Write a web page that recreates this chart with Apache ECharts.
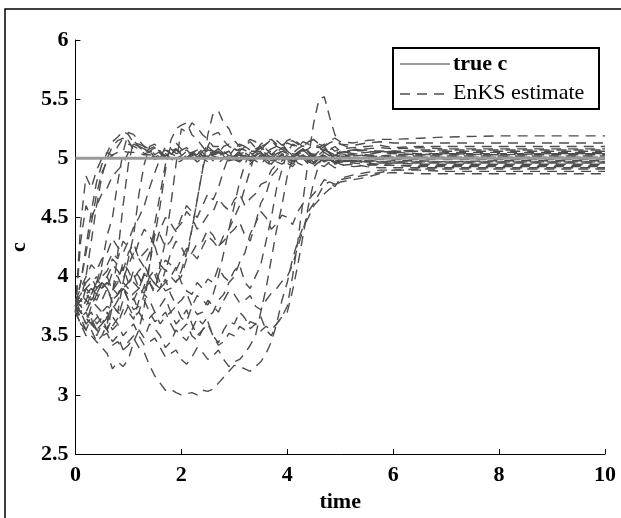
<!DOCTYPE html>
<html><head><meta charset="utf-8">
<script src="https://cdn.jsdelivr.net/npm/echarts@6/dist/echarts.min.js"></script>
<style>html,body{margin:0;padding:0;background:#fff}#c{width:621px;height:518px}</style>
</head><body><div id="c"></div>
<script>
// shared time grid
var T = [0,0.1,0.2,0.3,0.4,0.5,0.6,0.7,0.8,0.9,1.0,1.1,1.2,1.3,1.4,1.5,1.6,1.7,1.8,1.9,2.0,2.1,2.2,2.3,2.4,2.5,2.6,2.7,2.8,2.9,3.0,3.1,3.2,3.3,3.4,3.5,3.6,3.7,3.8,3.9,4.0,4.1,4.2,4.3,4.4,4.5,4.6,4.7,4.8,4.9,5.0,5.25,5.5,5.75,6,6.5,7,8,9,10];
var trueT = [0, 10];
var trueC = [5, 5];
var xTicks = [0,2,4,6,8,10];
var yTicks = [2.5,3,3.5,4,4.5,5,5.5,6];
// ensemble members (EnKS estimate)
var m1 = [3.75,3.95,4.25,4.55,4.8,4.95,5.05, 5.14,5.18, 5.23,5.2, 5.13,5.12, 5.1,5.06, 5.01,5.03, 5.07,5.04, 5.0,5.02, 5.06,5.05, 5.01,5.03, 5.07,5.06, 5.02,5.04, 5.06,5.02, 5.04,5.05, 5.01,5.03, 5.06,5.04, 5.0,5.02, 5.06,5.04, 5.01,5.03, 5.06,5.05, 5.02,5.03, 5.05,5.02, 5.06,5.04, 5.02,5.03,5.05,5.04,5.03,5.04,5.03,5.04,5.04];
var m2 = [3.7,4.45,4.85,4.75,4.9,5.0,5.05, 5.02,5.1, 5.17,5.15, 5.07,5.1, 5.08,5.05, 4.99,5.02, 5.04,5.0, 4.96,4.98, 5.03,5.01, 4.97,5.0, 5.02,4.98, 4.96,5.0, 5.02,4.99, 4.97,5.01, 5.0,4.98, 4.95,5.0, 5.01,4.97, 4.95,4.99, 5.02,5.0, 4.97,4.98, 5.01,5.0, 4.97,4.99, 5.01,4.98, 4.97,4.99,4.97,4.98,4.98,4.97,4.98,4.98,4.98];
var m3 = [3.75,3.95,4.2,4.45,4.7,4.88,4.98, 5.03,5.05, 5.06,5.05, 5.05,5.04, 5.03,5.03, 5.02,5.01, 5.01,5.0, 5.0,5.0, 5.01,5.01, 5.0,5.0, 5.0,5.0, 5.01,5.01, 5.0,5.0, 5.0,5.0, 5.01,5.0, 5.0,5.01, 5.0,5.0, 5.0,5.0, 5.0,5.0, 5.0,5.0, 5.01,5.01, 5.0,5.0, 5.0,5.0, 5.0,5.0,5.0,5.0,5.0,5.0,5.0,5.0,5.0];
var m4 = [3.8,3.7,3.6,3.75,3.95,4.1,4.35, 4.5,4.8, 5.05,5.22, 5.2,5.15, 5.1,5.08, 5.03,5.06, 5.08,5.04, 5.02,5.07, 5.09,5.05, 5.03,5.08, 5.1,5.06, 5.05,5.1, 5.12,5.08, 5.06,5.11, 5.14,5.09, 5.07,5.12, 5.15,5.1, 5.08,5.13, 5.11,5.1, 5.14,5.12, 5.1,5.09, 5.12,5.1, 5.06,5.08, 5.09,5.1,5.11,5.09,5.1,5.1,5.1,5.1,5.1];
var m5 = [3.7,3.6,3.55,3.65,3.5,3.6,3.55, 3.75,3.7, 3.95,4.15, 4.35,4.7, 4.95,5.1, 5.12,5.05, 5.0,5.03, 5.07,5.05, 5.0,5.02, 5.04,5.0, 4.97,5.03, 5.05,5.01, 4.98,4.99, 5.03,5.02, 4.98,5.0, 5.02,4.98, 4.95,5.01, 5.03,4.99, 4.96,5.0, 5.01,4.97, 4.95,5.0, 5.02,4.98, 4.95,4.97, 4.98,4.96,4.95,4.96,4.95,4.95,4.95,4.95,4.95];
var m6 = [3.75,3.65,3.55,3.5,3.45,3.4,3.35, 3.22,3.28, 3.24,3.3, 3.45,3.55, 3.75,4.1, 4.45,4.7, 4.95,5.1, 5.13,5.08, 5.04,5.05, 5.07,5.03, 5.01,5.06, 5.08,5.04, 5.01,5.02, 5.06,5.05, 5.01,5.03, 5.05,5.01, 4.99,5.04, 5.06,5.02, 5.0,5.05, 5.07,5.03, 5.0,5.01, 5.04,5.03, 5.0,5.02, 5.03,5.02,5.01,5.02,5.02,5.02,5.02,5.02,5.02];
var m7 = [3.8,3.75,3.9,3.85,3.95,3.9,4.0, 3.88,3.95, 4.12,4.05, 3.95,3.9, 4.03,3.95, 3.88,4.1, 4.3,4.6, 4.95,5.25, 5.22,5.3, 5.26,5.2, 5.16,5.1, 5.1,5.06, 5.02,5.04, 5.08,5.07, 5.03,5.05, 5.06,5.03, 5.01,5.06, 5.08,5.04, 5.02,5.05, 5.07,5.03, 5.01,5.06, 5.08,5.04, 5.02,5.05, 5.07,5.06,5.05,5.06,5.07,5.07,5.07,5.07,5.07];
var m8 = [3.75,3.7,3.8,3.75,3.85,3.8,3.9, 3.78,3.85, 3.92,3.8, 3.86,3.9, 4.02,3.95, 3.85,3.9, 4.06,4.0, 3.95,4.05, 4.2,4.4, 4.65,4.9, 5.2,5.38, 5.4,5.3, 5.25,5.15, 5.1,5.12, 5.16,5.14, 5.1,5.12, 5.16,5.15, 5.11,5.13, 5.15,5.12, 5.1,5.14, 5.16,5.12, 5.1,5.15, 5.17,5.14, 5.13,5.15,5.16,5.16,5.17,5.18,5.19,5.19,5.19];
var m9 = [3.75,3.7,3.6,3.65,3.55,3.5,3.52, 3.42,3.45, 3.38,3.42, 3.48,3.4, 3.36,3.25, 3.16,3.1, 3.04,3.05, 3.02,3.0, 3.01,3.02, 3.0,3.04, 3.03,3.05, 3.1,3.15, 3.2,3.25, 3.24,3.22, 3.2,3.24, 3.28,3.35, 3.45,3.6, 3.8,3.95, 4.15,4.3, 4.42,4.5, 4.6,4.65, 4.7,4.74, 4.77,4.8, 4.82,4.84,4.87,4.88,4.87,4.87,4.87,4.87,4.87];
var m10 = [3.75,3.7,3.65,3.6,3.68,3.6,3.55, 3.66,3.6, 3.5,3.55, 3.6,3.5, 3.42,3.45, 3.48,3.4, 3.32,3.35, 3.38,3.3, 3.26,3.32, 3.4,3.36, 3.3,3.33, 3.38,3.3, 3.24,3.28, 3.3,3.35, 3.42,3.5, 3.7,3.9, 4.15,4.4, 4.6,4.85, 5.0,5.05, 5.08,5.02, 4.96,4.98, 5.02,5.0, 4.95,4.97, 4.96,4.95,4.94,4.94,4.93,4.93,4.93,4.93,4.93];
var m11 = [3.75,3.8,3.85,3.9,3.85,3.95,3.9, 3.8,3.85, 3.9,3.8, 3.72,3.75, 3.8,3.7, 3.62,3.65, 3.7,3.6, 3.52,3.55, 3.6,3.5, 3.46,3.55, 3.6,3.5, 3.42,3.45, 3.52,3.5, 3.58,3.55, 3.62,3.6, 3.54,3.58, 3.55,3.6, 3.66,3.75, 4.0,4.3, 4.65,5.0, 5.3,5.5, 5.52,5.35, 5.2,5.12, 5.08,5.06,5.05,5.05,5.06,5.05,5.05,5.05,5.05];
var m12 = [3.75,3.8,3.75,3.85,3.8,3.9,3.95, 3.88,4.0, 4.08,3.95, 3.98,4.05, 4.1,4.0, 3.94,3.9, 3.98,3.85, 3.76,3.8, 3.86,3.75, 3.68,3.7, 3.8,3.75, 3.7,3.8, 3.88,3.85, 3.78,3.8, 3.84,3.75, 3.72,3.8, 3.86,3.9, 3.96,4.0, 4.1,4.25, 4.4,4.55, 4.62,4.7, 4.78,4.8, 4.78,4.82, 4.84,4.86,4.88,4.9,4.91,4.91,4.91,4.91,4.91];
var m13 = [3.75,3.85,3.9,3.95,4.0,3.9,3.95, 3.9,3.85, 3.95,3.9, 4.06,4.0, 3.9,3.95, 4.02,3.9, 3.95,4.0, 4.08,3.95, 3.88,3.85, 3.95,3.9, 3.98,3.95, 4.08,4.0, 3.96,4.05, 4.1,3.95, 3.9,4.0, 4.1,4.3, 4.5,4.75, 4.9,5.05, 5.12,5.1, 5.06,5.08, 5.12,5.1, 5.05,5.07, 5.1,5.06, 5.04,5.05,5.06,5.05,5.04,5.04,5.04,5.04,5.04];
var m14 = [3.75,3.8,3.9,3.85,3.95,4.0,4.05, 4.15,4.1, 4.05,4.2, 4.28,4.15, 4.2,4.25, 4.38,4.35, 4.25,4.3, 4.4,4.45, 4.55,4.5, 4.4,4.45, 4.52,4.55, 4.66,4.6, 4.56,4.65, 4.7,4.6, 4.66,4.7, 4.78,4.8, 4.9,4.95, 5.04,5.02, 4.97,5.0, 5.02,4.98, 4.96,5.0, 5.02,4.99, 4.96,4.98, 4.98,4.98,4.97,4.97,4.97,4.97,4.97,4.97,4.97];
var m15 = [3.8,3.9,4.0,4.1,4.05,4.15,4.2, 4.32,4.25, 4.2,4.3, 4.42,4.5, 4.6,4.75, 4.88,5.0, 5.1,5.08, 5.04,5.05, 5.07,5.03, 5.0,5.06, 5.08,5.02, 5.0,5.04, 5.06,5.0, 4.98,5.03, 5.05,5.01, 4.99,5.04, 5.06,5.02, 4.99,5.0, 5.04,5.03, 4.99,5.01, 5.04,5.02, 4.98,5.0, 5.03,5.01, 5.0,5.01,5.02,5.01,5.01,5.01,5.01,5.01,5.01];
var m16 = [3.7,4.3,4.6,4.5,4.6,4.7,4.75, 4.85,4.9, 4.95,5.05, 5.12,5.1, 5.05,5.08, 5.1,5.04, 5.02,5.06, 5.08,5.03, 5.0,5.05, 5.07,5.02, 4.99,5.04, 5.06,5.01, 4.98,5.03, 5.05,5.0, 4.97,5.02, 5.04,4.99, 4.96,5.01, 5.03,4.98, 4.95,5.0, 5.02,4.98, 4.95,5.0, 5.01,4.99, 4.96,4.97, 4.98,4.97,4.96,4.96,4.96,4.96,4.96,4.96,4.96];
var m17 = [3.8,3.75,3.7,3.8,3.75,3.7,3.65, 3.76,3.7, 3.66,3.75, 3.82,3.7, 3.62,3.65, 3.7,3.6, 3.66,3.7, 3.75,3.65, 3.62,3.75, 3.84,3.8, 3.76,3.85, 4.0,4.2, 4.4,4.6, 4.8,4.95, 5.05,5.08, 5.1,5.05, 5.08,5.1, 5.13,5.06, 5.04,5.08, 5.11,5.05, 5.03,5.07, 5.1,5.04, 5.02,5.06, 5.07,5.08,5.09,5.08,5.09,5.08,5.08,5.08,5.08];
var m18 = [3.75,3.85,3.8,3.9,3.85,3.95,3.9, 4.04,4.0, 3.9,3.95, 4.02,3.9, 3.86,4.0, 4.06,3.95, 3.88,3.9, 3.96,4.0, 4.15,4.4, 4.65,4.9, 5.1,5.2, 5.22,5.15, 5.1,5.08, 5.12,5.1, 5.06,5.06, 5.1,5.08, 5.03,5.05, 5.09,5.07, 5.02,5.04, 5.08,5.06, 5.01,5.03, 5.07,5.05, 5.0,5.03, 5.04,5.03,5.02,5.03,5.03,5.03,5.03,5.03,5.03];
var m19 = [3.75,3.6,3.55,3.6,3.55,3.6,3.65, 3.55,3.6, 3.72,3.7, 3.64,3.8, 3.92,4.1, 4.35,4.6, 4.9,5.15, 5.25,5.28, 5.3,5.2, 5.16,5.1, 5.04,5.05, 5.08,5.02, 4.98,5.0, 5.03,4.98, 4.95,5.0, 5.02,4.97, 4.94,4.99, 5.01,4.96, 4.93,4.98, 5.0,4.95, 4.93,4.97, 4.99,4.95, 4.92,4.94, 4.95,4.93,4.92,4.92,4.92,4.92,4.92,4.92,4.92];
var m20 = [3.75,3.7,3.65,3.7,3.6,3.65,3.55, 3.45,3.5, 3.38,3.45, 3.5,3.55, 3.48,3.6, 3.56,3.5, 3.4,3.45, 3.55,3.5, 3.46,3.55, 3.65,3.6, 3.66,3.7, 3.8,3.85, 3.95,4.0, 4.12,4.2, 4.36,4.45, 4.62,4.7, 4.85,4.9, 4.98,5.0, 5.02,4.96, 4.94,4.98, 5.0,4.95, 4.93,4.97, 4.99,4.95, 4.93,4.94,4.95,4.94,4.94,4.94,4.94,4.94,4.94];
var m21 = [3.75,3.8,4.0,4.3,4.6,4.85,5.0, 5.1,5.15, 5.17,5.12, 5.1,5.08, 5.04,5.05, 5.08,5.06, 5.02,5.04, 5.07,5.05, 5.01,5.03, 5.06,5.05, 5.0,5.02, 5.05,5.04, 5.0,5.01, 5.04,5.03, 4.99,5.0, 5.03,5.02, 4.98,5.0, 5.03,5.01, 4.98,4.99, 5.02,5.01, 4.97,4.99, 5.02,5.0, 4.97,4.99, 5.0,5.0,5.01,5.0,5.0,5.0,5.0,5.0,5.0];
var m22 = [3.75,3.65,3.7,3.6,3.65,3.7,3.75, 3.72,3.8, 3.9,3.85, 3.8,3.9, 4.02,4.0, 3.94,4.05, 4.14,4.1, 4.05,4.15, 4.24,4.2, 4.15,4.25, 4.34,4.3, 4.24,4.35, 4.4,4.5, 4.6,4.75, 4.9,5.05, 5.12,5.15, 5.16,5.12, 5.1,5.15, 5.17,5.13, 5.1,5.14, 5.16,5.12, 5.1,5.13, 5.15,5.12, 5.11,5.13,5.14,5.13,5.13,5.13,5.13,5.13,5.13];
var m23 = [3.75,3.8,3.85,3.8,3.9,3.95,4.0, 4.1,4.05, 3.98,4.1, 4.2,4.15, 4.08,4.2, 4.26,4.1, 4.05,4.2, 4.3,4.25, 4.16,4.2, 4.28,4.3, 4.4,4.35, 4.26,4.3, 4.36,4.4, 4.46,4.35, 4.3,4.45, 4.55,4.5, 4.4,4.45, 4.52,4.5, 4.44,4.55, 4.62,4.65, 4.7,4.75, 4.82,4.8, 4.76,4.83, 4.86,4.88,4.9,4.9,4.9,4.89,4.89,4.89,4.89];
var m24 = [3.75,3.7,3.65,3.6,3.55,3.6,3.7, 3.58,3.65, 3.8,3.75, 3.66,3.7, 3.85,3.8, 3.7,3.75, 3.82,3.7, 3.6,3.65, 3.72,3.6, 3.5,3.55, 3.62,3.5, 3.44,3.55, 3.62,3.6, 3.7,3.65, 3.56,3.6, 3.66,3.55, 3.5,3.6, 3.66,3.7, 3.88,4.1, 4.35,4.6, 4.8,4.95, 5.06,5.05, 4.99,5.02, 5.01,5.0,4.99,4.99,4.99,4.99,4.99,4.99,4.99];
var m25 = [3.7,3.6,3.5,3.55,3.45,3.5,3.6, 3.85,4.2, 4.6,4.95, 5.15,5.1, 5.05,5.06, 5.09,5.04, 5.02,5.05, 5.08,5.03, 5.0,5.04, 5.07,5.02, 5.0,5.03, 5.06,5.02, 4.99,5.01, 5.04,5.0, 4.98,5.02, 5.05,5.01, 4.98,5.0, 5.03,5.0, 4.97,5.01, 5.03,4.99, 4.97,5.0, 5.02,4.99, 4.97,4.98, 4.98,4.97,4.97,4.97,4.97,4.97,4.97,4.97,4.97];
var m26 = [3.8,3.85,3.95,4.0,3.9,4.05,4.1, 4.2,4.15, 4.3,4.25, 4.15,4.3, 4.4,4.35, 4.25,4.4, 4.5,4.45, 4.38,4.5, 4.6,4.55, 4.5,4.6, 4.7,4.65, 4.75,4.9, 5.02,5.08, 5.05,5.1, 5.07,5.05, 5.09,5.06, 5.03,5.07, 5.1,5.06, 5.03,5.05, 5.08,5.04, 5.02,5.06, 5.08,5.05, 5.03,5.05, 5.06,5.07,5.06,5.06,5.06,5.06,5.06,5.06,5.06];
var members = [m1,m2,m3,m4,m5,m6,m7,m8,m9,m10,m11,m12,m13,m14,m15,m16,m17,m18,m19,m20,m21,m22,m23,m24,m25,m26];
members.forEach(function (m, i) { if (m.length !== T.length) throw new Error('m' + (i + 1) + ' has ' + m.length + ' values, expected ' + T.length); });

var FONT = 'Liberation Serif';
var series = [];
members.forEach(function (m) {
  series.push({
    type: 'line', name: 'EnKS estimate', showSymbol: false, silent: true,
    data: T.map(function (t, k) { return [t, m[k]]; }),
    lineStyle: { color: '#4d4d4d', width: 1.4, type: [10, 7] },
    z: 2
  });
});
series.push({
  type: 'line', name: 'true c', showSymbol: false, silent: true,
  data: trueT.map(function (t, k) { return [t, trueC[k]]; }),
  lineStyle: { color: '#9a9a9a', width: 3 }, z: 5
});

var chart = echarts.init(document.getElementById('c'));
chart.setOption({
  animation: false,
  backgroundColor: '#ffffff',
  grid: { left: 70, right: 16, top: 40, bottom: 59 },
  xAxis: {
    type: 'value', min: 0, max: 10, interval: 2,
    name: 'time', nameLocation: 'middle', nameGap: 33,
    nameTextStyle: { fontFamily: FONT, fontSize: 22, fontWeight: 'bold', color: '#000' },
    axisLine: { lineStyle: { color: '#000', width: 1 } },
    axisTick: { inside: true, length: 5, lineStyle: { color: '#000' } },
    axisLabel: { fontFamily: FONT, fontSize: 22, fontWeight: 'bold', color: '#000', margin: 10,
      formatter: function (v) { return xTicks.indexOf(v) >= 0 ? String(v) : ''; } },
    splitLine: { show: false }
  },
  yAxis: {
    type: 'value', min: 2.5, max: 6, interval: 0.5,
    name: 'c', nameLocation: 'middle', nameGap: 45, nameRotate: 90,
    nameTextStyle: { fontFamily: FONT, fontSize: 22, fontWeight: 'bold', color: '#000' },
    axisLine: { show: true, lineStyle: { color: '#000', width: 1 } },
    axisTick: { show: true, inside: true, length: 5, lineStyle: { color: '#000' } },
    axisLabel: { fontFamily: FONT, fontSize: 22, fontWeight: 'bold', color: '#000', margin: 7,
      formatter: function (v) { return yTicks.indexOf(v) >= 0 ? String(v) : ''; } },
    splitLine: { show: false }
  },
  series: series,
  graphic: [
    { type: 'rect', shape: { x: 5, y: 9, width: 700, height: 600 }, style: { fill: 'none', stroke: '#000', lineWidth: 1.5 }, silent: true },
    { type: 'rect', shape: { x: 393, y: 48, width: 206, height: 61 }, style: { fill: '#fff', stroke: '#000', lineWidth: 2 }, z: 10 },
    { type: 'line', shape: { x1: 400, y1: 64, x2: 450, y2: 64 }, style: { stroke: '#9a9a9a', lineWidth: 2 }, z: 11 },
    { type: 'line', shape: { x1: 400, y1: 94, x2: 450, y2: 94 }, style: { stroke: '#4d4d4d', lineWidth: 1.3, lineDash: [10, 7] }, z: 11 },
    { type: 'text', x: 453, y: 64, style: { text: 'true c', fontFamily: FONT, fontSize: 22, fontWeight: 'bold', fill: '#000', textVerticalAlign: 'middle' }, z: 11 },
    { type: 'text', x: 453, y: 93, style: { text: 'EnKS estimate', fontFamily: FONT, fontSize: 22, fill: '#000', textVerticalAlign: 'middle' }, z: 11 }
  ]
});
</script></body></html>
